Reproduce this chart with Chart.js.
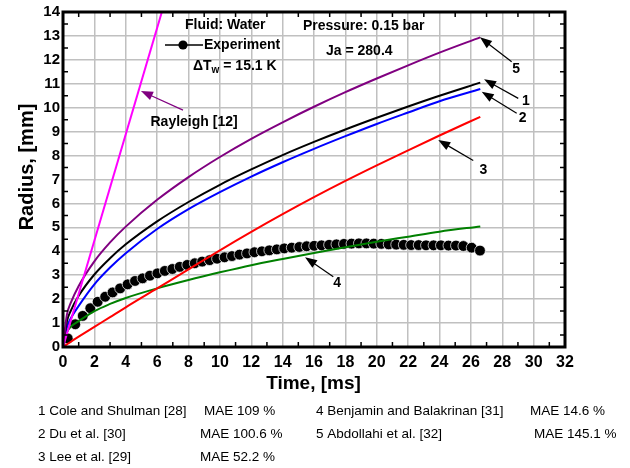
<!DOCTYPE html>
<html>
<head>
<meta charset="utf-8">
<script src="https://cdn.jsdelivr.net/npm/chart.js@4.4.1/dist/chart.umd.min.js"></script>
<style>
  html, body { margin: 0; padding: 0; background: #fff; }
  #wrap { width: 630px; height: 468px; position: relative; }
</style>
</head>
<body>
<div id="wrap"><canvas id="c" width="630" height="468"></canvas></div>
<script>
// Bubble radius vs. time, water at 0.15 bar (Ja = 280.4, ΔTw = 15.1 K)

// Rayleigh [12] inertia-controlled growth
const timeRayleigh = [0, 6.3];
const radiusRayleigh = [0, 14];

// Correlation curves sampled on a common time grid, ms
const timeModel = [0, 0.25, 0.5, 1, 2, 3, 4, 6, 8, 10, 12, 14, 16, 18, 20, 22, 24, 26.6];
const radiusCole     = [0, 1.07, 1.52, 2.14, 3.03, 3.71, 4.29, 5.25, 6.06, 6.78, 7.42, 8.02, 8.57, 9.09, 9.58, 10.05, 10.5, 11.05];
const radiusDu       = [0, 0.82, 1.20, 1.72, 2.62, 3.32, 3.92, 4.93, 5.76, 6.47, 7.12, 7.72, 8.28, 8.81, 9.32, 9.80, 10.27, 10.78];
const radiusLee      = [0, 0.11, 0.22, 0.43, 0.84, 1.25, 1.66, 2.45, 3.24, 4.04, 4.81, 5.55, 6.26, 6.94, 7.59, 8.22, 8.84, 9.62];
const radiusBenjamin = [0, 0.62, 0.85, 1.08, 1.50, 1.80, 2.05, 2.45, 2.80, 3.12, 3.42, 3.68, 3.93, 4.17, 4.40, 4.61, 4.82, 5.04];
const radiusAbdollahi= [0, 1.35, 1.85, 2.55, 3.58, 4.37, 5.03, 6.15, 7.10, 7.94, 8.70, 9.39, 10.04, 10.65, 11.22, 11.77, 12.30, 12.94];

// Measured bubble radius
const timeExp = [0.30, 0.78, 1.26, 1.74, 2.21, 2.69, 3.16, 3.64, 4.12, 4.59, 5.07, 5.54, 6.02, 6.49, 6.97, 7.44,
  7.92, 8.40, 8.87, 9.35, 9.82, 10.30, 10.77, 11.25, 11.73, 12.20, 12.68, 13.15, 13.63, 14.10, 14.58, 15.06,
  15.53, 16.01, 16.48, 16.96, 17.43, 17.91, 18.39, 18.86, 19.34, 19.81, 20.29, 20.76, 21.24, 21.72, 22.19,
  22.67, 23.14, 23.62, 24.09, 24.57, 25.05, 25.52, 26.05, 26.58];
const radiusExp = [0.36, 0.95, 1.30, 1.62, 1.89, 2.10, 2.28, 2.45, 2.62, 2.76, 2.87, 2.98, 3.08, 3.18, 3.26, 3.35,
  3.43, 3.50, 3.57, 3.63, 3.69, 3.75, 3.80, 3.86, 3.91, 3.96, 4.00, 4.04, 4.08, 4.12, 4.15, 4.18,
  4.21, 4.23, 4.25, 4.27, 4.29, 4.31, 4.32, 4.33, 4.33, 4.32, 4.31, 4.29, 4.28, 4.27, 4.26,
  4.26, 4.25, 4.25, 4.25, 4.24, 4.24, 4.22, 4.15, 4.03];

// Axis ticks
const xTickValues = [0, 2, 4, 6, 8, 10, 12, 14, 16, 18, 20, 22, 24, 26, 28, 30, 32];
const yTickValues = [0, 1, 2, 3, 4, 5, 6, 7, 8, 9, 10, 11, 12, 13, 14];

// Key printed under the plot
const modelKey = [
  ['1 Cole and Shulman [28]', 'MAE 109 %'],
  ['2 Du et al. [30]', 'MAE 100.6 %'],
  ['3 Lee et al. [29]', 'MAE 52.2 %'],
  ['4 Benjamin and Balakrinan [31]', 'MAE 14.6 %'],
  ['5 Abdollahi et al. [32]', 'MAE 145.1 %']
];

const FONT = '"Liberation Sans", Arial, Helvetica, sans-serif';
const pts = (xs, ys) => xs.map((x, i) => ({ x: x, y: ys[i] }));

function curve(label, ys, color) {
  return {
    label: label,
    data: pts(timeModel, ys),
    borderColor: color,
    backgroundColor: color,
    borderWidth: 2,
    pointRadius: 0,
    fill: false,
    cubicInterpolationMode: 'monotone',
    order: 1
  };
}

// Annotation arrows (tip -> tail in data units) and their labels
const arrows = [
  { tip: [4.97, 10.70], tail: [7.65, 9.90], color: '#800080' },
  { tip: [26.58, 12.94], tail: [28.6, 11.92], color: '#000', label: '5', at: [28.88, 11.60] },
  { tip: [26.84, 11.19], tail: [29.02, 10.39], color: '#000', label: '1', at: [29.51, 10.29] },
  { tip: [26.69, 10.67], tail: [28.92, 9.77], color: '#000', label: '2', at: [29.30, 9.56] },
  { tip: [23.92, 8.65], tail: [26.15, 7.79], color: '#000', label: '3', at: [26.79, 7.40] },
  { tip: [15.43, 3.75], tail: [17.23, 2.94], color: '#000', label: '4', at: [17.48, 2.66] }
];

const decorations = {
  id: 'decorations',
  afterDatasetsDraw(chart) {
    const { ctx, chartArea: a, scales: { x, y } } = chart;
    ctx.save();

    // inward minor ticks
    ctx.strokeStyle = '#000';
    ctx.lineWidth = 1.5;
    ctx.beginPath();
    for (let v = 1; v < 32; v += 2) {
      const px = x.getPixelForValue(v);
      ctx.moveTo(px, a.bottom); ctx.lineTo(px, a.bottom - 5);
      ctx.moveTo(px, a.top); ctx.lineTo(px, a.top + 5);
    }
    for (let v = 0.5; v < 14; v += 1) {
      const py = y.getPixelForValue(v);
      ctx.moveTo(a.left, py); ctx.lineTo(a.left + 5, py);
      ctx.moveTo(a.right, py); ctx.lineTo(a.right - 5, py);
    }
    ctx.stroke();

    // frame
    ctx.lineWidth = 3;
    ctx.strokeRect(a.left, a.top, a.right - a.left, a.bottom - a.top);

    // arrows
    arrows.forEach(ar => {
      const tx = x.getPixelForValue(ar.tip[0]), ty = y.getPixelForValue(ar.tip[1]);
      const sx = x.getPixelForValue(ar.tail[0]), sy = y.getPixelForValue(ar.tail[1]);
      const ang = Math.atan2(ty - sy, tx - sx);
      const L = 12, W = 4.5;
      ctx.strokeStyle = ar.color;
      ctx.fillStyle = ar.color;
      ctx.lineWidth = 1.2;
      ctx.beginPath();
      ctx.moveTo(sx, sy);
      ctx.lineTo(tx - Math.cos(ang) * L * 0.8, ty - Math.sin(ang) * L * 0.8);
      ctx.stroke();
      ctx.beginPath();
      ctx.moveTo(tx, ty);
      ctx.lineTo(tx - Math.cos(ang) * L - Math.sin(ang) * W, ty - Math.sin(ang) * L + Math.cos(ang) * W);
      ctx.lineTo(tx - Math.cos(ang) * L + Math.sin(ang) * W, ty - Math.sin(ang) * L - Math.cos(ang) * W);
      ctx.closePath();
      ctx.fill();
      if (ar.label) {
        ctx.fillStyle = '#000';
        ctx.font = 'bold 14px ' + FONT;
        ctx.textAlign = 'center';
        ctx.textBaseline = 'middle';
        ctx.fillText(ar.label, x.getPixelForValue(ar.at[0]), y.getPixelForValue(ar.at[1]));
      }
    });

    // in-plot text
    ctx.fillStyle = '#000';
    ctx.textAlign = 'left';
    ctx.textBaseline = 'middle';
    ctx.font = 'bold 14px ' + FONT;
    ctx.fillText('Rayleigh [12]', 150.5, 122);
    ctx.fillText('Fluid: Water', 185, 25.5);
    ctx.fillText('Pressure: 0.15 bar', 303, 26);
    ctx.fillText('Ja = 280.4', 326, 51.5);

    // experiment legend entry
    ctx.strokeStyle = '#000';
    ctx.lineWidth = 1.5;
    ctx.beginPath();
    ctx.moveTo(165, 45); ctx.lineTo(203, 45);
    ctx.stroke();
    ctx.beginPath();
    ctx.arc(183, 45, 4.6, 0, Math.PI * 2);
    ctx.fill();
    ctx.fillText('Experiment', 204, 45);

    // ΔTw = 15.1 K
    let cx = 193;
    ctx.fillText('\u0394T', cx, 66);
    cx += ctx.measureText('\u0394T').width;
    ctx.font = 'bold 10px ' + FONT;
    ctx.fillText('w', cx, 70);
    cx += ctx.measureText('w').width;
    ctx.font = 'bold 14px ' + FONT;
    ctx.fillText(' = 15.1 K', cx, 66);

    // axis titles
    ctx.textAlign = 'center';
    ctx.font = 'bold 19px ' + FONT;
    ctx.fillText('Time, [ms]', 313.5, 384);
    ctx.save();
    ctx.translate(27, 167);
    ctx.rotate(-Math.PI / 2);
    ctx.font = 'bold 20px ' + FONT;
    ctx.fillText('Radius, [mm]', 0, 0);
    ctx.restore();

    // model key
    ctx.textAlign = 'left';
    ctx.font = '13.5px ' + FONT;
    const rows = [411, 434, 457];
    const nameX = [38, 38, 38, 316, 316];
    const maeX = [204, 200, 200, 530, 534];
    const rowOf = [0, 1, 2, 0, 1];
    modelKey.forEach((k, i) => {
      ctx.fillText(k[0], nameX[i], rows[rowOf[i]]);
      ctx.fillText(k[1], maeX[i], rows[rowOf[i]]);
    });

    ctx.restore();
  }
};

new Chart(document.getElementById('c'), {
  type: 'line',
  data: {
    datasets: [
      { label: 'Rayleigh [12]', data: pts(timeRayleigh, radiusRayleigh), borderColor: '#ff00ff', backgroundColor: '#ff00ff', borderWidth: 2, pointRadius: 0, order: 0 },
      curve('Abdollahi et al. [32]', radiusAbdollahi, '#800080'),
      curve('Cole and Shulman [28]', radiusCole, '#000000'),
      curve('Du et al. [30]', radiusDu, '#0000ff'),
      curve('Lee et al. [29]', radiusLee, '#ff0000'),
      curve('Benjamin and Balakrinan [31]', radiusBenjamin, '#008000'),
      {
        label: 'Experiment',
        data: pts(timeExp, radiusExp),
        showLine: false,
        pointRadius: 5.4,
        pointBackgroundColor: '#000',
        pointBorderColor: '#fff',
        pointBorderWidth: 0.7,
        borderColor: '#000',
        order: 10
      }
    ]
  },
  options: {
    responsive: false,
    animation: false,
    devicePixelRatio: 1,
    layout: { padding: { top: 12, right: 65, left: 0, bottom: 0 } },
    plugins: { legend: { display: false }, tooltip: { enabled: false } },
    scales: {
      x: {
        type: 'linear', min: 0, max: 32,
        afterFit: s => { s.height = 121; },
        afterBuildTicks: s => { s.ticks = xTickValues.map(v => ({ value: v })); },
        ticks: { autoSkip: false, maxRotation: 0, color: '#000', padding: 6, font: { family: FONT, size: 16, weight: 'bold' } },
        grid: { color: '#c0c0c0', lineWidth: 1.5, drawTicks: false },
        border: { display: false }
      },
      y: {
        min: 0, max: 14,
        afterFit: s => { s.width = 63; },
        afterBuildTicks: s => { s.ticks = yTickValues.map(v => ({ value: v })); },
        ticks: { color: '#000', padding: 3, font: { family: FONT, size: 15, weight: 'bold' } },
        grid: { color: '#c0c0c0', lineWidth: 1.5, drawTicks: false },
        border: { display: false }
      }
    }
  },
  plugins: [decorations]
});
</script>
</body>
</html>
